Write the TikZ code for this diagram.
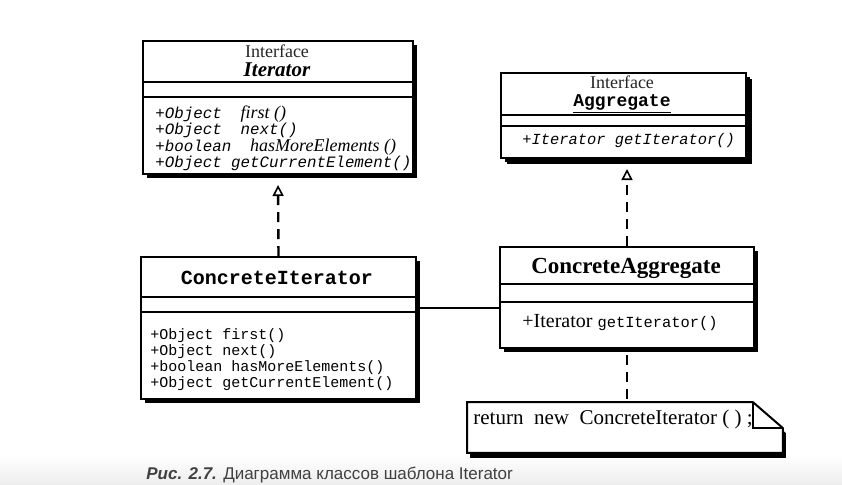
\documentclass[tikz,border=0pt]{standalone}
\usepackage{fontspec}
\setmainfont{Liberation Serif}
\setmonofont{Liberation Mono}
\newfontfamily\capfont{Liberation Sans}
\usetikzlibrary{arrows.meta,shadows}

% italic serif method name inside a mono line
\newcommand{\rmname}[1]{{\fontsize{9}{8.3}\selectfont\rmfamily\itshape #1}}

\begin{document}
\begin{tikzpicture}[
    x=0.5pt, y=-0.5pt,
    classbox/.style={rectangle, draw, line width=1pt, fill=white, inner sep=0pt, anchor=north west,
        drop shadow={shadow xshift=2pt, shadow yshift=-2pt, opacity=1, fill=black}},
    sect/.style={line width=0.8pt},
    txt/.style={inner sep=0pt},
    meth/.style={txt, anchor=north west, align=left, font=\fontsize{7.5}{6.9}\selectfont\ttfamily},
    realize/.style={-{Triangle[open, width=5.5pt, length=5.5pt, line width=0.8pt]}, line width=1.2pt,
        dash pattern=on 5pt off 3.5pt, shorten >=5pt},
    assoc/.style={line width=0.8pt},
    notelink/.style={line width=1.2pt, dash pattern=on 5pt off 3.5pt, shorten <=3pt}
]
\useasboundingbox (0,0) rectangle (842,484);
\clip (0,0) rectangle (842,484);
\shade[top color=white, bottom color=black!7] (0,455) rectangle (842,484);

% Iterator interface
\node[classbox, minimum width=135pt, minimum height=66.5pt] (iter) at (142,40) {};
\draw[sect] (iter.west |- 0,82) -- (iter.east |- 0,82);
\draw[sect] (iter.west |- 0,97) -- (iter.east |- 0,97);
\node[txt, font=\fontsize{9}{9}\selectfont, text=black!85] (itertag) at (277,51) {Interface};
\node[txt, font=\fontsize{10.5}{10.5}\selectfont\bfseries\itshape] (itername) at (277,70) {Iterator};
\node[meth, font=\fontsize{7.9}{8.3}\selectfont\ttfamily\itshape] (itermeth) at (155,105)
    {+Object~~\rmname{first ()}\\+Object~~next()\\+boolean~~\rmname{hasMoreElements ()}\\+Object getCurrentElement()};

% Aggregate interface
\node[classbox, minimum width=122.5pt, minimum height=42.5pt,
    drop shadow={shadow xshift=3pt, shadow yshift=-3pt, opacity=1, fill=black}] (agg) at (500,72) {};
\draw[sect] (agg.west |- 0,115) -- (agg.east |- 0,115);
\draw[sect] (agg.west |- 0,126) -- (agg.east |- 0,126);
\node[txt, font=\fontsize{9}{9}\selectfont, text=black!85] (aggtag) at (622,82) {Interface};
\node[txt, font=\fontsize{9}{9}\selectfont\ttfamily\bfseries] (aggname) at (622,104) {\underline{Aggregate}};
\node[txt, anchor=west, font=\fontsize{7.7}{7.7}\selectfont\ttfamily\itshape] (aggmeth) at (522,141) {+Iterator getIterator()};

% ConcreteIterator
\node[classbox, minimum width=137.5pt, minimum height=71pt] (citer) at (140,256) {};
\draw[sect] (citer.west |- 0,297) -- (citer.east |- 0,297);
\draw[sect] (citer.west |- 0,312) -- (citer.east |- 0,312);
\node[txt, font=\fontsize{10}{10}\selectfont\ttfamily\bfseries] (citername) at (277,278) {ConcreteIterator};
\node[meth] (citermeth) at (150,328)
    {+Object first()\\+Object next()\\+boolean hasMoreElements()\\+Object getCurrentElement()};

% ConcreteAggregate
\node[classbox, minimum width=127pt, minimum height=50.5pt] (cagg) at (499,246) {};
\draw[sect] (cagg.west |- 0,284) -- (cagg.east |- 0,284);
\draw[sect] (cagg.west |- 0,302) -- (cagg.east |- 0,302);
\node[txt, font=\fontsize{11.5}{11.5}\selectfont\bfseries] (caggname) at (626,268) {ConcreteAggregate};
\node[txt, anchor=west, font=\fontsize{10}{10}\selectfont] (caggmeth) at (522,323)
    {+Iterator {\fontsize{7.7}{7.7}\selectfont\ttfamily getIterator()}};

% Note
\node[txt, anchor=north west, minimum width=157.5pt, minimum height=25pt] (note) at (467,402) {};
\draw[line width=1pt, fill=white, drop shadow={shadow xshift=1.5pt, shadow yshift=-2.5pt, opacity=1, fill=black}]
    (note.north west) -- ([xshift=-15pt]note.north east) -- ([yshift=-13pt]note.north east)
    -- (note.south east) -- (note.south west) -- cycle;
\draw[line width=0.8pt] ([xshift=-15pt]note.north east) -- ([xshift=-15pt, yshift=-13pt]note.north east)
    -- ([yshift=-13pt]note.north east);
\node[txt, anchor=west, font=\fontsize{10.5}{10.5}\selectfont] (notetext) at (473,419)
    {return~~new~~ConcreteIterator~(~)~;};

% Connectors
\draw[realize] (citer.north) -- (iter.south);
\draw[realize] (cagg.north) -- (cagg.north |- agg.south);
\draw[assoc] ([yshift=10pt]citer.east) -- ([yshift=10pt]citer.east -| cagg.west);
\draw[notelink] (cagg.south) -- (cagg.south |- note.north);

% Caption
\node[txt, anchor=base west, text=black!75, font=\capfont\fontsize{8.5}{8.5}\selectfont] (caption) at (146,479)
    {\textbf{\textit{Рис. 2.7.}} Диаграмма классов шаблона Iterator};
\end{tikzpicture}
\end{document}
